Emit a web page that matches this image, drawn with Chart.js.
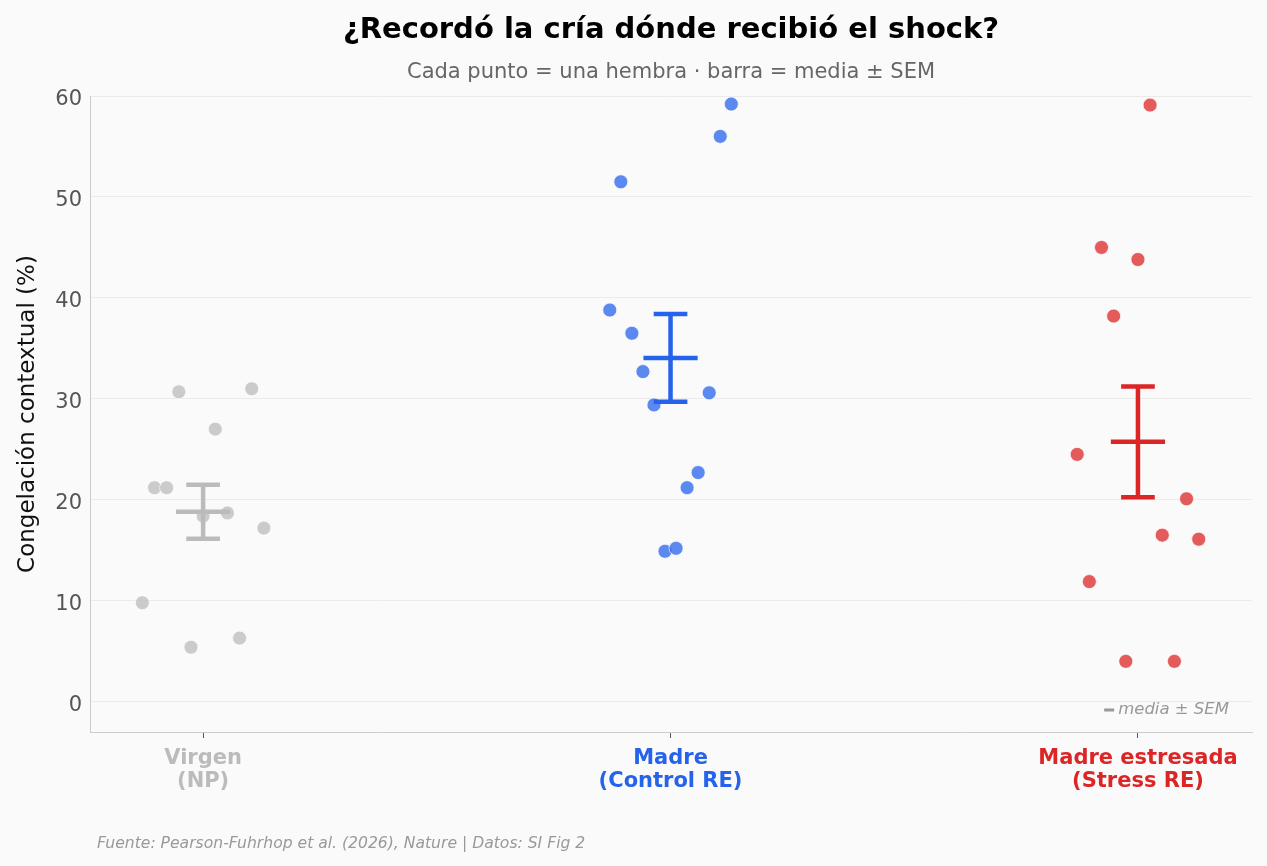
<!DOCTYPE html>
<html>
<head>
<meta charset="utf-8">
<script src="https://cdn.jsdelivr.net/npm/chart.js@4/dist/chart.umd.min.js"></script>
<style>
  html, body { margin: 0; padding: 0; background: #fafafa; }
  #wrap { width: 1267px; height: 866px; }
</style>
</head>
<body>
<div id="wrap"><canvas id="c" width="1267" height="866"></canvas></div>
<script>
// ---- Data ----
const categories = ["Virgen\n(NP)", "Madre\n(Control RE)", "Madre estresada\n(Stress RE)"];
const categoryColors = ["#bbbbbb", "#2563eb", "#dc2626"];
const virgenValues = [9.8, 21.2, 21.2, 30.7, 5.4, 18.4, 27.0, 18.7, 6.3, 31.0, 17.2];
const madreValues = [38.8, 51.5, 36.5, 32.7, 29.4, 14.9, 15.2, 21.2, 22.7, 30.6, 56.0, 59.2];
const estresadaValues = [24.5, 11.9, 45.0, 38.2, 4.0, 43.8, 59.1, 16.5, 4.0, 20.1, 16.1];
const yTicks = [0, 10, 20, 30, 40, 50, 60];
const groups = [virgenValues, madreValues, estresadaValues];

const JITTER = 0.13, CAP = 0.036, MEANW = 0.058;

function alpha(hex, a) {
  const n = parseInt(hex.slice(1), 16);
  return `rgba(${(n >> 16) & 255},${(n >> 8) & 255},${n & 255},${a})`;
}
function stats(v) {
  const n = v.length, m = v.reduce((s, x) => s + x, 0) / n;
  const sd = Math.sqrt(v.reduce((s, x) => s + (x - m) * (x - m), 0) / (n - 1));
  return { mean: m, sem: sd / Math.sqrt(n) };
}

const datasets = [];
groups.forEach((vals, gi) => {
  const n = vals.length;
  datasets.push({
    type: 'scatter',
    order: 2,
    data: vals.map((y, j) => ({ x: gi - JITTER + (2 * JITTER * j) / (n - 1), y })),
    pointRadius: 7,
    pointHoverRadius: 7,
    backgroundColor: alpha(categoryColors[gi], 0.75),
    borderColor: 'rgba(255,255,255,0.9)',
    borderWidth: 0.8,
    showLine: false
  });
  const s = stats(vals);
  const hi = s.mean + s.sem, lo = s.mean - s.sem;
  datasets.push({
    type: 'scatter',
    order: 1,
    showLine: true,
    spanGaps: false,
    pointRadius: 0,
    pointHoverRadius: 0,
    borderColor: categoryColors[gi],
    borderWidth: 4.5,
    borderCapStyle: 'butt',
    data: [
      { x: gi, y: hi }, { x: gi, y: lo }, { x: gi, y: null },
      { x: gi - CAP, y: hi }, { x: gi + CAP, y: hi }, { x: gi, y: null },
      { x: gi - CAP, y: lo }, { x: gi + CAP, y: lo }, { x: gi, y: null },
      { x: gi - MEANW, y: s.mean }, { x: gi + MEANW, y: s.mean }
    ]
  });
});

const extras = {
  id: 'extras',
  afterDraw(chart) {
    const ctx = chart.ctx, a = chart.chartArea;
    ctx.save();
    // legend note
    ctx.font = "italic 16.5px 'DejaVu Sans', sans-serif";
    ctx.fillStyle = '#999999';
    ctx.textAlign = 'right';
    ctx.textBaseline = 'middle';
    const txt = 'media ± SEM';
    const rx = a.right - 23, ly = a.bottom - 22;
    ctx.fillText(txt, rx, ly);
    const w = ctx.measureText(txt).width;
    ctx.strokeStyle = '#999999';
    ctx.lineWidth = 3;
    ctx.beginPath();
    ctx.moveTo(rx - w - 14, ly);
    ctx.lineTo(rx - w - 4, ly);
    ctx.stroke();
    // footer
    ctx.textAlign = 'left';
    ctx.fillStyle = '#999999';
    ctx.font = "italic 15.6px 'DejaVu Sans', sans-serif";
    ctx.fillText('Fuente: Pearson-Fuhrhop et al. (2026), Nature | Datos: SI Fig 2', 97, 844);
    ctx.restore();
  }
};

const bgPlugin = {
  id: 'bg',
  beforeDraw(chart) {
    const ctx = chart.ctx;
    ctx.save();
    ctx.fillStyle = '#fafafa';
    ctx.fillRect(0, 0, chart.width, chart.height);
    ctx.restore();
  }
};

Chart.defaults.font.family = "'DejaVu Sans', sans-serif";

new Chart(document.getElementById('c'), {
  type: 'scatter',
  data: { datasets },
  plugins: [bgPlugin, extras],
  options: {
    responsive: false,
    animation: false,
    events: [],
    layout: { padding: { left: 12, right: 15, top: 0, bottom: 73 } },
    plugins: {
      legend: { display: false },
      tooltip: { enabled: false },
      title: {
        display: true,
        fullSize: false,
        text: '¿Recordó la cría dónde recibió el shock?',
        color: '#000000',
        font: { size: 29, weight: 'bold' },
        padding: { top: 13, bottom: 6 }
      },
      subtitle: {
        display: true,
        fullSize: false,
        text: 'Cada punto = una hembra · barra = media ± SEM',
        color: '#666666',
        font: { size: 21 },
        padding: { top: 6.6, bottom: 10.4 }
      }
    },
    scales: {
      x: {
        type: 'linear',
        min: -0.242,
        max: 2.244,
        afterBuildTicks(axis) { axis.ticks = categories.map((_, i) => ({ value: i })); },
        afterFit(axis) { axis.height = 61; },
        grid: { drawOnChartArea: false, drawTicks: true, tickLength: 6, tickColor: '#555555', tickWidth: 1 },
        border: { color: '#cccccc', width: 1 },
        ticks: {
          padding: 9,
          autoSkip: false,
          maxRotation: 0,
          callback: (v) => (Number.isInteger(v) && categories[v] !== undefined) ? categories[v].split('\n') : '',
          color: (ctx) => categoryColors[ctx.index] || '#555',
          font: { size: 21, weight: 'bold', lineHeight: 1.1 }
        }
      },
      y: {
        min: -3,
        max: 60,
        afterBuildTicks(axis) { axis.ticks = yTicks.map(v => ({ value: v })); },
        afterFit(axis) { axis.width = 78; },
        grid: { color: '#ebebeb', lineWidth: 1, drawTicks: false },
        border: { color: '#cccccc', width: 1 },
        ticks: { color: '#555555', font: { size: 21 }, padding: 8, labelOffset: 3.5 },
        title: {
          display: true,
          text: 'Congelación contextual (%)',
          color: '#111111',
          font: { size: 23 },
          padding: { top: 2, bottom: 16 }
        }
      }
    }
  }
});
</script>
</body>
</html>
